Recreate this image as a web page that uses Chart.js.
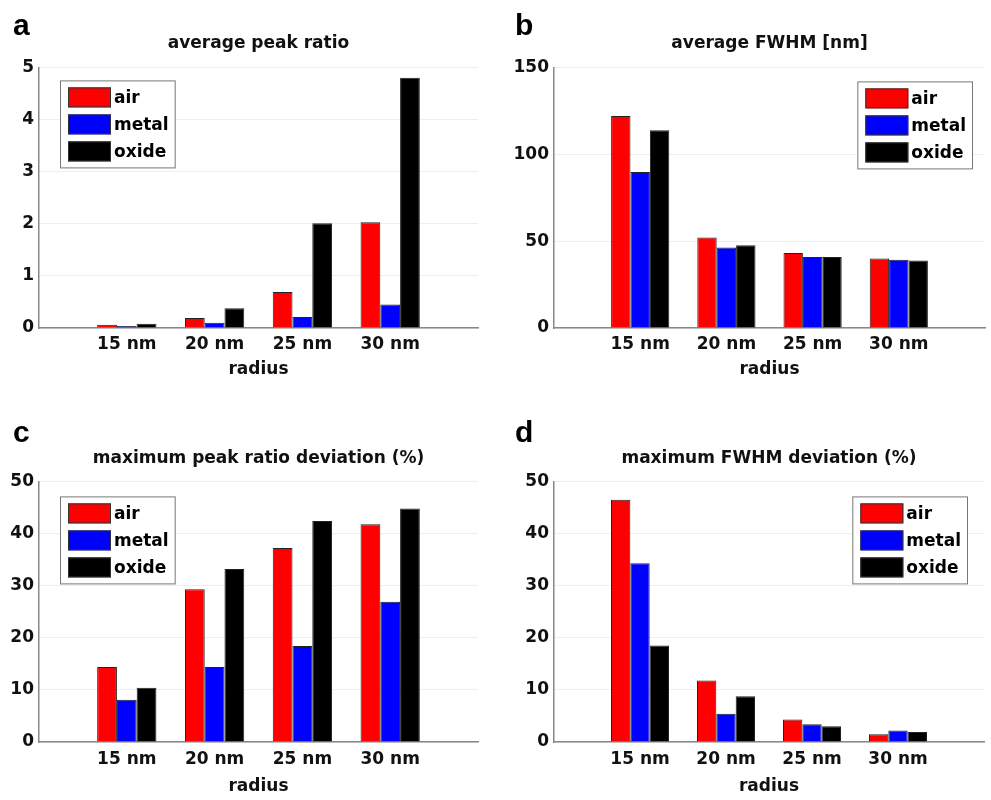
<!DOCTYPE html>
<html>
<head>
<meta charset="utf-8">
<script src="https://cdn.jsdelivr.net/npm/chart.js@4.4.1/dist/chart.umd.min.js"></script>
<style>
  body { margin: 0; background: #fff; }
  .panel { position: absolute; }
</style>
</head>
<body>
<div class="panel" style="left:0;top:0"><canvas id="chartA" width="495" height="400"></canvas></div>
<div class="panel" style="left:495px;top:0"><canvas id="chartB" width="496" height="400"></canvas></div>
<div class="panel" style="left:0;top:400px"><canvas id="chartC" width="495" height="400"></canvas></div>
<div class="panel" style="left:495px;top:400px"><canvas id="chartD" width="496" height="400"></canvas></div>
<script>
const radii = ["15 nm", "20 nm", "25 nm", "30 nm"];
const seriesNames = ["air", "metal", "oxide"];
const seriesColors = ["#ff0000", "#0000ff", "#000000"];

// a: average peak ratio
const peakRatioAir = [0.06, 0.19, 0.69, 2.03];
const peakRatioMetal = [0.04, 0.10, 0.21, 0.45];
const peakRatioOxide = [0.08, 0.38, 2.01, 4.80];
const peakRatioTicks = [0, 1, 2, 3, 4, 5];

// b: average FWHM
const fwhmAir = [122, 52.1, 43.1, 40.0];
const fwhmMetal = [89.8, 46.4, 40.8, 39.3];
const fwhmOxide = [113.8, 47.7, 40.8, 38.9];
const fwhmTicks = [0, 50, 100, 150];

// c: maximum peak ratio deviation
const peakDevAir = [14.4, 29.3, 37.2, 41.8];
const peakDevMetal = [8.1, 14.4, 18.4, 26.9];
const peakDevOxide = [10.4, 33.2, 42.4, 44.8];
const peakDevTicks = [0, 10, 20, 30, 40, 50];

// d: maximum FWHM deviation
const fwhmDevAir = [46.5, 11.8, 4.3, 1.5];
const fwhmDevMetal = [34.3, 5.4, 3.4, 2.2];
const fwhmDevOxide = [18.5, 8.8, 3.0, 1.9];
const fwhmDevTicks = [0, 10, 20, 30, 40, 50];

const FONT = "'DejaVu Sans', sans-serif";

// panel letter (a, b, c, d) in the corner
const panelLetter = {
  id: "panelLetter",
  afterDraw(chart, args, opts) {
    const ctx = chart.ctx;
    ctx.save();
    ctx.font = "bold 30px 'Liberation Sans', Arial, sans-serif";
    ctx.fillStyle = "#000";
    ctx.textBaseline = "alphabetic";
    ctx.fillText(opts.text, opts.x, opts.y);
    ctx.restore();
  },
};

// MATLAB-like boxed legend inside the axes
const boxLegend = {
  id: "boxLegend",
  afterDatasetsDraw(chart, args, opts) {
    const ctx = chart.ctx;
    const area = chart.chartArea;
    ctx.save();
    ctx.font = "bold 17px " + FONT;
    const items = chart.data.datasets;
    let textW = 0;
    items.forEach((d) => (textW = Math.max(textW, ctx.measureText(d.label).width)));
    const w = 8 + 43 + 3 + textW + 6;
    const h = 87;
    const x = opts.left != null ? area.left + opts.left : area.right - opts.right - w;
    const y = area.top + opts.top;
    ctx.fillStyle = "#fff";
    ctx.fillRect(x, y, w, h);
    ctx.strokeStyle = "#777";
    ctx.lineWidth = 1;
    ctx.strokeRect(x + 0.5, y + 0.5, w, h);
    items.forEach((d, i) => {
      const sy = y + 7 + i * 27;
      ctx.fillStyle = d.backgroundColor;
      ctx.fillRect(x + 8, sy, 43, 20);
      ctx.strokeStyle = "#333";
      ctx.strokeRect(x + 8.5, sy + 0.5, 42, 19);
      ctx.fillStyle = "#000";
      ctx.textBaseline = "middle";
      ctx.fillText(d.label, x + 8 + 43 + 3, sy + 11);
    });
    ctx.restore();
  },
};

function makePanel(id, cfg) {
  const values = [cfg.air, cfg.metal, cfg.oxide];
  new Chart(document.getElementById(id), {
    type: "bar",
    data: {
      labels: ["", ...radii, ""],
      datasets: seriesNames.map((name, i) => ({
        label: name,
        data: [null, ...values[i], null],
        backgroundColor: seriesColors[i],
        borderColor: "#222",
        borderWidth: 1,
        categoryPercentage: 0.675,
        barPercentage: 1,
      })),
    },
    options: {
      responsive: false,
      animation: false,
      devicePixelRatio: 1,
      layout: { padding: { left: 0, right: cfg.padRight, top: 0, bottom: 0 } },
      plugins: {
        legend: { display: false },
        tooltip: { enabled: false },
        title: {
          display: true,
          text: cfg.title,
          fullSize: false,
          color: "#111",
          font: { family: FONT, size: 17, weight: "bold" },
          padding: { top: cfg.titleTop, bottom: cfg.titleBottom },
        },
        panelLetter: { text: cfg.letter, x: cfg.letterX, y: cfg.letterY },
        boxLegend: cfg.legend,
      },
      scales: {
        x: {
          type: "category",
          offset: false,
          grid: { display: false, drawTicks: false },
          border: { display: true, color: "#888", width: 1.5 },
          ticks: {
            autoSkip: false,
            maxRotation: 0,
            color: "#111",
            padding: cfg.xTickPad,
            font: { family: FONT, size: 17, weight: "bold" },
          },
          title: {
            display: true,
            text: "radius",
            color: "#111",
            font: { family: FONT, size: 17, weight: "bold" },
            padding: { top: 0, bottom: cfg.xTitlePad },
          },
          afterFit: (scale) => {
            scale.height = cfg.xHeight;
          },
        },
        y: {
          min: cfg.ticks[0],
          max: cfg.ticks[cfg.ticks.length - 1],
          grid: { color: "#eeeeee", drawTicks: false },
          border: { display: true, color: "#888", width: 1.5 },
          ticks: {
            stepSize: cfg.ticks[1] - cfg.ticks[0],
            color: "#111",
            padding: 5,
            font: { family: FONT, size: 17, weight: "bold" },
          },
          afterFit: (scale) => {
            scale.width = cfg.yWidth;
          },
        },
      },
    },
    plugins: [panelLetter, boxLegend],
  });
}

makePanel("chartA", {
  title: "average peak ratio", letter: "a", letterX: 13, letterY: 35,
  air: peakRatioAir, metal: peakRatioMetal, oxide: peakRatioOxide, ticks: peakRatioTicks,
  yWidth: 39, padRight: 17, xHeight: 72, xTickPad: 6, xTitlePad: 20,
  titleTop: 33, titleBottom: 14, legend: { left: 21, top: 13 },
});
makePanel("chartB", {
  title: "average FWHM [nm]", letter: "b", letterX: 20, letterY: 35,
  air: fwhmAir, metal: fwhmMetal, oxide: fwhmOxide, ticks: fwhmTicks,
  yWidth: 59, padRight: 0, xHeight: 72, xTickPad: 6, xTitlePad: 20,
  titleTop: 33, titleBottom: 14, legend: { right: 13, top: 14 },
});
makePanel("chartC", {
  title: "maximum peak ratio deviation (%)", letter: "c", letterX: 13, letterY: 42,
  air: peakDevAir, metal: peakDevMetal, oxide: peakDevOxide, ticks: peakDevTicks,
  yWidth: 39, padRight: 17, xHeight: 58, xTickPad: 7, xTitlePad: 3,
  titleTop: 48, titleBottom: 13, legend: { left: 21, top: 15 },
});
makePanel("chartD", {
  title: "maximum FWHM deviation (%)", letter: "d", letterX: 20, letterY: 42,
  air: fwhmDevAir, metal: fwhmDevMetal, oxide: fwhmDevOxide, ticks: fwhmDevTicks,
  yWidth: 59, padRight: 0, xHeight: 58, xTickPad: 7, xTitlePad: 3,
  titleTop: 48, titleBottom: 13, legend: { right: 17, top: 15 },
});
</script>
</body>
</html>
